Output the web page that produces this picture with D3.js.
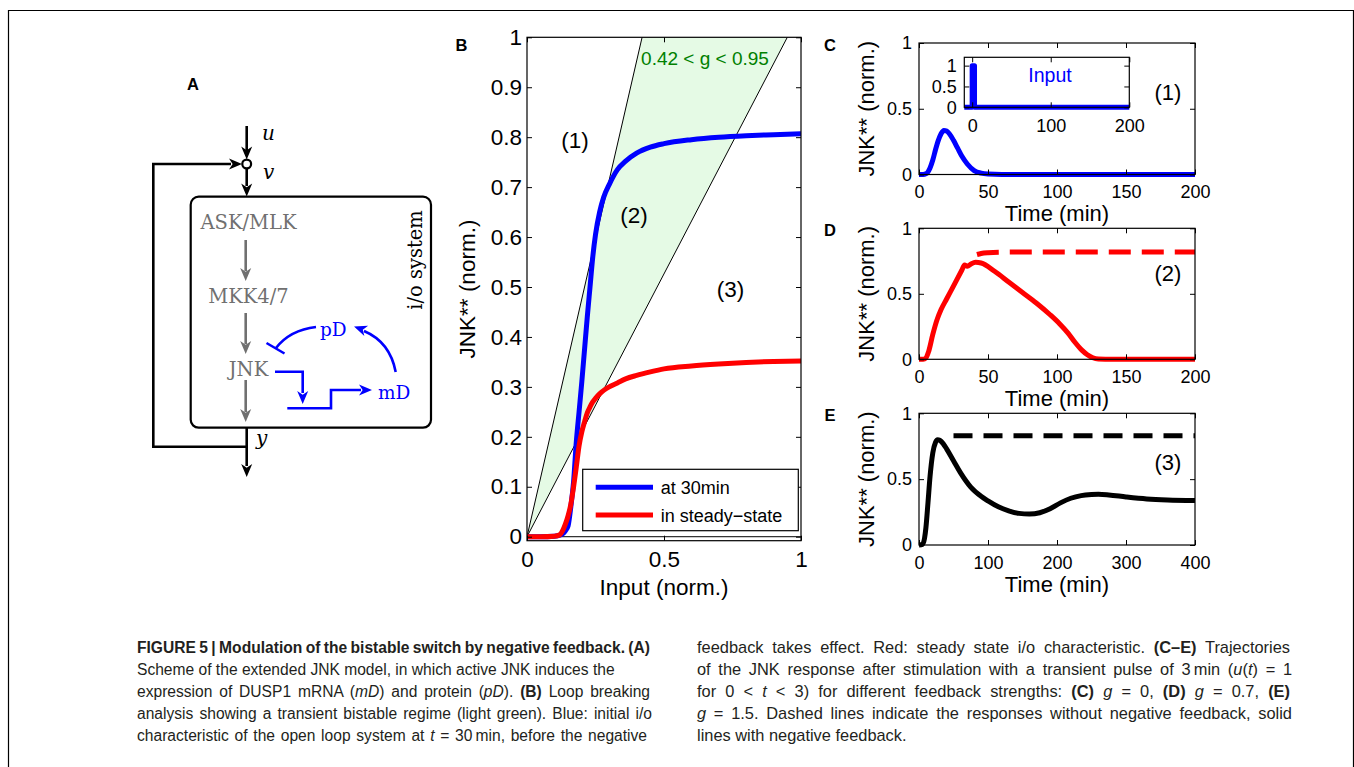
<!DOCTYPE html>
<html>
<head>
<meta charset="utf-8">
<script src="https://cdn.jsdelivr.net/npm/d3@7"></script>
<style>
body { margin: 0; background: #fff; }
svg { display: block; font-family: "Liberation Sans", Arial, sans-serif; }
</style>
</head>
<body>
<div id="chart-area"></div>
<script>
// ---- Data ----

// Panel B: loop breaking i/o characteristics
const inputB = [0, 0.05, 0.1, 0.12, 0.13, 0.14, 0.15, 0.16, 0.17, 0.18, 0.19, 0.2, 0.21, 0.22, 0.23, 0.24, 0.25, 0.265, 0.28, 0.3, 0.33, 0.36, 0.4, 0.45, 0.5, 0.6, 0.7, 0.8, 0.9, 1];
const at30min = [0, 0, 0.001, 0.003, 0.006, 0.012, 0.022, 0.06, 0.11, 0.19, 0.25, 0.31, 0.375, 0.44, 0.5, 0.56, 0.605, 0.65, 0.68, 0.705, 0.735, 0.752, 0.768, 0.78, 0.787, 0.795, 0.8, 0.803, 0.805, 0.807];
const steadyState = [0, 0, 0.001, 0.004, 0.012, 0.025, 0.042, 0.065, 0.1, 0.14, 0.182, 0.21, 0.23, 0.248, 0.26, 0.27, 0.277, 0.286, 0.293, 0.3, 0.308, 0.316, 0.323, 0.33, 0.336, 0.342, 0.346, 0.349, 0.351, 0.352];
const gBounds = [0.42, 0.95];
const xTicksB = [0, 0.5, 1];
const yTicksB = [0, 0.1, 0.2, 0.3, 0.4, 0.5, 0.6, 0.7, 0.8, 0.9, 1];

// Panel C: g = 0
const timeC = [0, 3, 5, 8, 10, 12, 14, 16, 18, 20, 22, 25, 28, 31, 35, 40, 45, 50, 60, 100, 150, 200];
const jnkC = [0, 0, 0.005, 0.05, 0.11, 0.19, 0.26, 0.31, 0.335, 0.33, 0.31, 0.26, 0.2, 0.14, 0.08, 0.03, 0.01, 0.003, 0, 0, 0, 0];
const timeInput = [-10, 0, 0, 3, 3, 200];
const pulseInput = [0, 0, 1, 1, 0, 0];

// Panel D: g = 0.7
const timeD = [0, 3, 5, 7, 10, 13, 16, 20, 24, 28, 31, 33, 35, 38, 41, 45, 55, 65, 75, 85, 95, 102, 108, 113, 118, 122, 126, 130, 140, 200];
const jnkD = [0, 0, 0.01, 0.06, 0.19, 0.3, 0.38, 0.46, 0.54, 0.62, 0.68, 0.72, 0.71, 0.73, 0.74, 0.735, 0.67, 0.59, 0.51, 0.43, 0.34, 0.27, 0.2, 0.13, 0.07, 0.035, 0.012, 0.003, 0, 0];
const timeDnoFb = [42, 45, 50, 60, 100, 200];
const jnkDnoFb = [0.8, 0.808, 0.814, 0.818, 0.82, 0.82];

// Panel E: g = 1.5
const timeE = [0, 5, 8, 10, 13, 16, 20, 24, 27, 30, 35, 40, 50, 60, 75, 90, 100, 115, 130, 145, 160, 175, 190, 205, 220, 235, 250, 260, 275, 300, 330, 360, 400];
const jnkE = [0, 0.005, 0.05, 0.13, 0.32, 0.52, 0.7, 0.78, 0.8, 0.795, 0.77, 0.73, 0.64, 0.55, 0.44, 0.37, 0.335, 0.29, 0.26, 0.24, 0.235, 0.245, 0.275, 0.32, 0.355, 0.375, 0.383, 0.385, 0.38, 0.365, 0.35, 0.342, 0.338];
const timeEnoFb = [50, 400];
const jnkEnoFb = [0.83, 0.83];

const yTicksTime = [0, 0.5, 1];
const xTicks200 = [0, 50, 100, 150, 200];
const xTicks400 = [0, 100, 200, 300, 400];

const zip = (a, b) => a.map((d, i) => [d, b[i]]);

const svg = d3.select('#chart-area')
    .append('svg')
    .attr('width', 1354)
    .attr('height', 767);

// Figure frame
svg.append('path')
    .attr('d', 'M8.5,767V10.5H1353.5V767')
    .attr('fill', 'none')
    .attr('stroke', '#000')
    .attr('stroke-width', 1.2);

// MATLAB-like box with inward ticks on all four sides
function box(g, x, y, xt, yt, fs, padX, padY) {
    const [x0, x1] = x.range();
    const [y0, y1] = y.range();
    const styleAxis = (sel) => {
        sel.select('.domain').remove();
        sel.attr('font-size', fs).attr('font-family', '"Liberation Sans", Arial, sans-serif').attr('color', '#000');
        sel.selectAll('text').attr('fill', '#000');
    };
    g.append('g').attr('transform', 'translate(0,' + y0 + ')')
        .call(d3.axisBottom(x).tickValues(xt).tickSizeInner(-5).tickSizeOuter(0).tickPadding(padX).tickFormat(String))
        .call(styleAxis);
    g.append('g').attr('transform', 'translate(0,' + y1 + ')')
        .call(d3.axisTop(x).tickValues(xt).tickSizeInner(-5).tickSizeOuter(0).tickFormat(''))
        .call(styleAxis);
    g.append('g').attr('transform', 'translate(' + x0 + ',0)')
        .call(d3.axisLeft(y).tickValues(yt).tickSizeInner(-5).tickSizeOuter(0).tickPadding(padY).tickFormat(String))
        .call(styleAxis);
    g.append('g').attr('transform', 'translate(' + x1 + ',0)')
        .call(d3.axisRight(y).tickValues(yt).tickSizeInner(-5).tickSizeOuter(0).tickFormat(''))
        .call(styleAxis);
    g.append('rect')
        .attr('x', x0).attr('y', y1)
        .attr('width', x1 - x0).attr('height', y0 - y1)
        .attr('fill', 'none').attr('stroke', '#000').attr('stroke-width', 1.2);
}

function label(g, x, y, txt, fs, opts = {}) {
    const t = g.append('text')
        .attr('x', x).attr('y', y)
        .attr('font-size', fs)
        .attr('text-anchor', opts.anchor || 'middle')
        .attr('fill', opts.fill || '#000')
        .attr('font-weight', opts.weight || 'normal')
        .text(txt);
    if (opts.rotate) t.attr('transform', 'rotate(-90,' + x + ',' + y + ')');
    return t;
}

// ================= Panel A (scheme) =================
const gA = svg.append('g');
const serif = '"DejaVu Serif", "Liberation Serif", serif';
const grey = '#707070';
const blue = '#0000ff';

function head(g, tx, ty, ang, col, len = 13, wid = 11) {
    const dx = Math.cos(ang), dy = Math.sin(ang);
    const px = -dy, py = dx;
    const bx = tx - len * dx, by = ty - len * dy;
    const ix = tx - 0.72 * len * dx, iy = ty - 0.72 * len * dy;
    g.append('path')
        .attr('d', 'M' + tx + ',' + ty +
            'L' + (bx + px * wid / 2) + ',' + (by + py * wid / 2) +
            'L' + ix + ',' + iy +
            'L' + (bx - px * wid / 2) + ',' + (by - py * wid / 2) + 'Z')
        .attr('fill', col);
}
function wire(g, d, col, w = 2.6) {
    g.append('path').attr('d', d).attr('fill', 'none').attr('stroke', col)
        .attr('stroke-width', w).attr('stroke-linejoin', 'miter');
}
function serifText(x, y, txt, fs, opts = {}) {
    const t = gA.append('text').attr('x', x).attr('y', y)
        .style('font-family', serif)
        .style('font-style', opts.italic ? 'italic' : 'normal')
        .attr('font-size', fs)
        .attr('fill', opts.fill || '#000')
        .attr('text-anchor', opts.anchor || 'start')
        .text(txt);
    if (opts.rotate) t.attr('transform', 'rotate(-90,' + x + ',' + y + ')');
    return t;
}
const D = Math.PI / 2;

// input u -> summation point
wire(gA, 'M246.7,126V151', '#000');
head(gA, 246.7, 159.5, D, '#000');
gA.append('circle').attr('cx', 246.7).attr('cy', 164).attr('r', 4.4)
    .attr('fill', '#fff').attr('stroke', '#000').attr('stroke-width', 2.2);
wire(gA, 'M246.7,168.5V186', '#000');
head(gA, 246.7, 196.5, D, '#000');
// i/o box
gA.append('rect').attr('x', 190.7).attr('y', 196.7).attr('width', 240.3).attr('height', 231)
    .attr('rx', 8).attr('fill', 'none').attr('stroke', '#000').attr('stroke-width', 2.2);
// output and feedback loop
wire(gA, 'M246.7,427.7V466', '#000');
head(gA, 246.7, 477, D, '#000');
wire(gA, 'M246.7,446.7H153.3V164H231', '#000');
head(gA, 242, 164, 0, '#000');

serifText(262, 140, 'u', 20, { italic: true });
serifText(263, 179, 'v', 20, { italic: true });
serifText(256, 445, 'y', 20, { italic: true });

// cascade
[['ASK/MLK', 229], ['MKK4/7', 302.5], ['JNK', 375.5]].forEach(([t, y]) => {
    serifText(248.5, y, t, 19.5, { fill: grey, anchor: 'middle' });
});
[[240, 281], [313, 354], [380, 422]].forEach(([a, b]) => {
    wire(gA, 'M245.7,' + a + 'V' + (b - 10), grey);
    head(gA, 245.7, b, D, grey);
});
serifText(422, 260, 'i/o system', 19.5, { anchor: 'middle', rotate: true });

// negative feedback module
wire(gA, 'M275,371.7H302.7V393', blue);
head(gA, 302.7, 404, D, blue);
wire(gA, 'M287.3,408.3H331V390H361', blue);
head(gA, 372, 390, 0, blue);
serifText(378, 398.5, 'mD', 18.5, { fill: blue });
serifText(320, 336, 'pD', 18.5, { fill: blue });
wire(gA, 'M395.7,372Q390,342 364,331', blue);
head(gA, 354, 326.5, Math.atan2(-8, -22), blue);
wire(gA, 'M316,327Q290,330 276,348', blue);
wire(gA, 'M266.5,343L284.5,353.5', blue);

label(svg, 193, 89.5, 'A', 16.5, { weight: 'bold' });

// ================= Panel B =================
const xB = d3.scaleLinear().domain([0, 1]).range([527, 801]);
const yB = d3.scaleLinear().domain([-0.008, 1]).range([540.7, 37.3]);
const gB = svg.append('g');
gB.append('clipPath').attr('id', 'clipB').append('rect')
    .attr('x', 527).attr('y', 37.3).attr('width', 274).attr('height', 503.4);
const plotB = gB.append('g').attr('clip-path', 'url(#clipB)');
const lineB = d3.line().x(d => xB(d[0])).y(d => yB(d[1]));

plotB.append('path')
    .attr('d', lineB([[0, 0], [gBounds[0], 1], [gBounds[1], 1]]) + 'Z')
    .attr('fill', '#e5fae5');
gBounds.forEach(g => {
    plotB.append('path').attr('d', lineB([[0, 0], [g, 1]]))
        .attr('stroke', '#000').attr('stroke-width', 1).attr('fill', 'none');
});
plotB.append('path').attr('d', lineB([[0, 0], [1, 0]]))
    .attr('stroke', '#000').attr('stroke-width', 1).attr('fill', 'none');

const curveB = d3.line().x(d => xB(d[0])).y(d => yB(d[1])).curve(d3.curveMonotoneX);
plotB.append('path').attr('d', curveB(zip(inputB, at30min)))
    .attr('fill', 'none').attr('stroke', blue).attr('stroke-width', 5);
plotB.append('path').attr('d', curveB(zip(inputB, steadyState)))
    .attr('fill', 'none').attr('stroke', '#ff0000').attr('stroke-width', 5);

box(gB, xB, yB, xTicksB, yTicksB, 22.5, 10, 5);

label(gB, 705, 65, '0.42 < g < 0.95', 19, { fill: '#008000' });
label(gB, 575, 148, '(1)', 22.5);
label(gB, 634, 223, '(2)', 22.5);
label(gB, 730.5, 296.5, '(3)', 22.5);

// legend
gB.append('rect').attr('x', 582.7).attr('y', 469.3).attr('width', 215.6).attr('height', 61.4)
    .attr('fill', '#fff').attr('stroke', '#000').attr('stroke-width', 1.2);
[['at 30min', blue, 487.3], ['in steady\u2212state', '#ff0000', 515]].forEach(([t, c, y]) => {
    gB.append('line').attr('x1', 595.7).attr('x2', 653).attr('y1', y).attr('y2', y)
        .attr('stroke', c).attr('stroke-width', 5);
    label(gB, 660.7, y + 6.5, t, 18, { anchor: 'start' });
});

label(gB, 664, 595, 'Input (norm.)', 22.5);
label(gB, 475, 289, 'JNK** (norm.)', 22.5, { rotate: true });
label(svg, 461.5, 51, 'B', 16.5, { weight: 'bold' });

// ================= Panels C-E =================
function timePanel(cfg) {
    const g = svg.append('g');
    const x = d3.scaleLinear().domain([0, cfg.tMax]).range([919, 1195]);
    const y = d3.scaleLinear().domain([0, 1]).range([cfg.y0, cfg.y1]);
    const ln = d3.line().x(d => x(d[0])).y(d => y(d[1])).curve(d3.curveMonotoneX);
    if (cfg.dash) {
        g.append('path').attr('d', ln(cfg.dash))
            .attr('fill', 'none').attr('stroke', cfg.color).attr('stroke-width', 5)
            .attr('stroke-dasharray', cfg.dashArray);
    }
    g.append('path').attr('d', ln(cfg.solid))
        .attr('fill', 'none').attr('stroke', cfg.color).attr('stroke-width', 5)
        .attr('stroke-linejoin', 'round');
    box(g, x, y, cfg.xTicks, yTicksTime, 18, 11, 7);
    label(g, 1057, cfg.y0 + 46.5, 'Time (min)', 22);
    label(g, 874, (cfg.y0 + cfg.y1) / 2, 'JNK** (norm.)', 22, { rotate: true });
    label(g, 1168, cfg.numY, cfg.num, 22);
    label(svg, 830, cfg.y1 + 8, cfg.letter, 16.5, { weight: 'bold' });
    return g;
}

const gC = timePanel({
    tMax: 200, y0: 174.5, y1: 43, xTicks: xTicks200, color: blue,
    solid: zip(timeC, jnkC), num: '(1)', numY: 100, letter: 'C'
});
// inset: input pulse
const xI = d3.scaleLinear().domain([-10, 200]).range([964.3, 1129.3]);
const yI = d3.scaleLinear().domain([0, 1.2]).range([107.3, 57.3]);
gC.append('rect').attr('x', 964.3).attr('y', 57.3).attr('width', 165).attr('height', 50).attr('fill', '#fff');
gC.append('path')
    .attr('d', d3.line().x(d => xI(d[0])).y(d => yI(d[1]))(zip(timeInput, pulseInput)))
    .attr('fill', 'none').attr('stroke', blue).attr('stroke-width', 5).attr('stroke-linejoin', 'round');
box(gC, xI, yI, [0, 100, 200], [0, 0.5, 1], 18, 11.5, 7.5);
label(gC, 1050, 82, 'Input', 19.5, { fill: blue });

timePanel({
    tMax: 200, y0: 359.3, y1: 228.3, xTicks: xTicks200, color: '#ff0000',
    solid: zip(timeD, jnkD), dash: zip(timeDnoFb, jnkDnoFb), dashArray: '22,11',
    num: '(2)', numY: 281, letter: 'D'
});

timePanel({
    tMax: 400, y0: 545, y1: 413.3, xTicks: xTicks400, color: '#000',
    solid: zip(timeE, jnkE), dash: zip(timeEnoFb, jnkEnoFb), dashArray: '19,11',
    num: '(3)', numY: 469.5, letter: 'E'
});

// ================= Caption =================
// each line: segments, and the width it is justified to (0 = natural width)
const capLeft = [
    [[['FIGURE 5 | Modulation of the bistable switch by negative feedback. (A)', 'b']], 513],
    [[['Scheme of the extended JNK model, in which active JNK induces the', '']], 0],
    [[['expression of DUSP1 mRNA (', ''], ['mD', 'i'], [') and protein (', ''], ['pD', 'i'], ['). ', ''], ['(B)', 'b'], [' Loop breaking', '']], 513],
    [[['analysis showing a transient bistable regime (light green). Blue: initial i/o', '']], 515],
    [[['characteristic of the open loop system at ', ''], ['t', 'i'], [' = 30\u2009min, before the negative', '']], 510]
];
const capRight = [
    [[['feedback takes effect. Red: steady state i/o characteristic. ', ''], ['(C\u2013E)', 'b'], [' Trajectories', '']], 593],
    [[['of the JNK response after stimulation with a transient pulse of 3\u2009min (', ''], ['u', 'i'], ['(', ''], ['t', 'i'], [') = 1', '']], 595],
    [[['for 0 < ', ''], ['t', 'i'], [' < 3) for different feedback strengths: ', ''], ['(C)', 'b'], [' ', ''], ['g', 'i'], [' = 0, ', ''], ['(D)', 'b'], [' ', ''], ['g', 'i'], [' = 0.7, ', ''], ['(E)', 'b']], 593],
    [[['g', 'i'], [' = 1.5. Dashed lines indicate the responses without negative feedback, solid', '']], 595],
    [[['lines with negative feedback.', '']], 0]
];
function caption(lines, x, fs) {
    lines.forEach(([segs, w], i) => {
        const t = svg.append('text').attr('x', x).attr('y', 653 + i * 22)
            .attr('font-size', fs).attr('fill', '#231f20');
        segs.forEach(([s, st]) => {
            t.append('tspan')
                .attr('font-weight', st === 'b' ? 'bold' : 'normal')
                .attr('font-style', st === 'i' ? 'italic' : 'normal')
                .text(s);
        });
        if (w) {
            // justify by spreading the spare room over the word gaps
            const nat = t.node().getComputedTextLength();
            const gaps = segs.map(s => s[0]).join('').split(' ').length - 1;
            t.style('word-spacing', ((w - nat) / gaps) + 'px');
        }
    });
}
caption(capLeft, 137, 15.6);
caption(capRight, 697, 16.4);
</script>
</body>
</html>
